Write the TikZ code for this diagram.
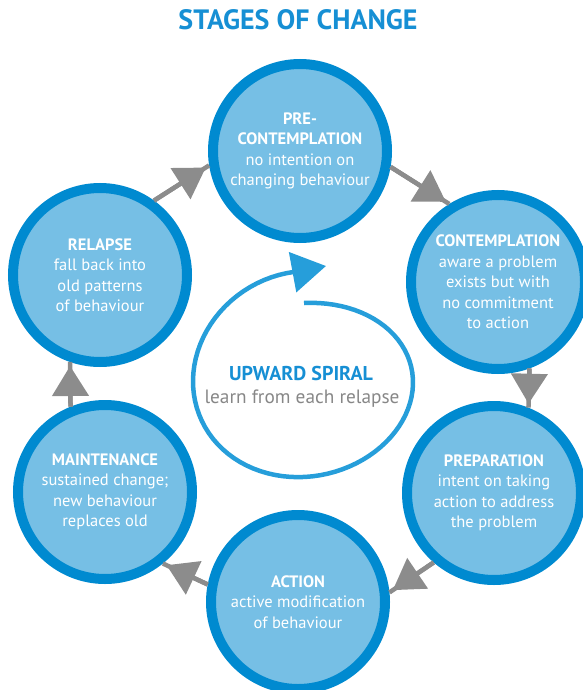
\documentclass[tikz,border=0pt]{standalone}
\usepackage{fontspec}
\setmainfont{PT Sans}
\usetikzlibrary{arrows.meta}
\definecolor{ringblue}{RGB}{0,138,208}
\definecolor{fillblue}{RGB}{118,191,229}
\definecolor{titleblue}{RGB}{22,143,212}
\definecolor{spiralblue}{RGB}{38,158,218}
\definecolor{arrowgray}{RGB}{140,140,140}
\definecolor{textgray}{RGB}{135,135,135}
\begin{document}
\begin{tikzpicture}[x=1pt, y=-1pt]
    \tikzstyle{stage}=[circle, draw=ringblue, fill=fillblue, line width=10pt, minimum size=174pt, inner sep=0pt, align=center, text=white, font=\fontsize{16.5}{20.5}\selectfont]
    \tikzstyle{link}=[arrowgray, line width=4.5pt]
    \tikzstyle{head}=[-{Triangle[length=30pt, width=36pt]}, shorten >=4pt]
    \useasboundingbox (0,0) rectangle (582,690);
    \node [anchor=base, font=\fontsize{28}{32}\selectfont\bfseries, text=titleblue] (title) at (298,30) {STAGES OF CHANGE};
    \node [stage] (pre) at (300,151) {\textbf{PRE-}\\\textbf{CONTEMPLATION}\\no intention on\\changing behaviour};
    \node [stage] (con) at (498,282) {\textbf{CONTEMPLATION}\\aware a problem\\exists but with\\no commitment\\to action};
    \node [stage] (prep) at (494,493) {\textbf{PREPARATION}\\intent on taking\\action to address\\the problem};
    \node [stage] (act) at (298,602) {\textbf{ACTION}\\active modification\\of behaviour};
    \node [stage] (maint) at (105,492) {\textbf{MAINTENANCE}\\sustained change;\\new behaviour\\replaces old};
    \node [stage] (rel) at (100,275) {\textbf{RELAPSE}\\fall back into\\old patterns\\of behaviour};
    % cycle arrows
    \foreach \a/\b in {rel.54/pre.189, pre.350/con.122, con.290/prep.68, prep.229/act.6, act.169/maint.309, maint.112/rel.251} {
        \draw [link, head] (\a) -- (\b);
        \draw [link] (\a) -- (\b);
    }
    % upward spiral
    \draw [spiralblue, line width=4.5pt, -{Triangle[length=34pt, width=40pt]}] plot [domain=90:-265, samples=90, variable=\t] ({304+(108+4*(90-\t)/360)*cos(\t)}, {382-(79+32*(90-\t)/360)*sin(\t)}) -- (326,266);
    \node [anchor=base, font=\fontsize{20}{24}\selectfont\bfseries, text=titleblue] (upward) at (301,380) {UPWARD SPIRAL};
    \node [anchor=base, font=\fontsize{19.3}{23}\selectfont, text=textgray] (learn) at (302,403) {learn from each relapse};
\end{tikzpicture}
\end{document}
